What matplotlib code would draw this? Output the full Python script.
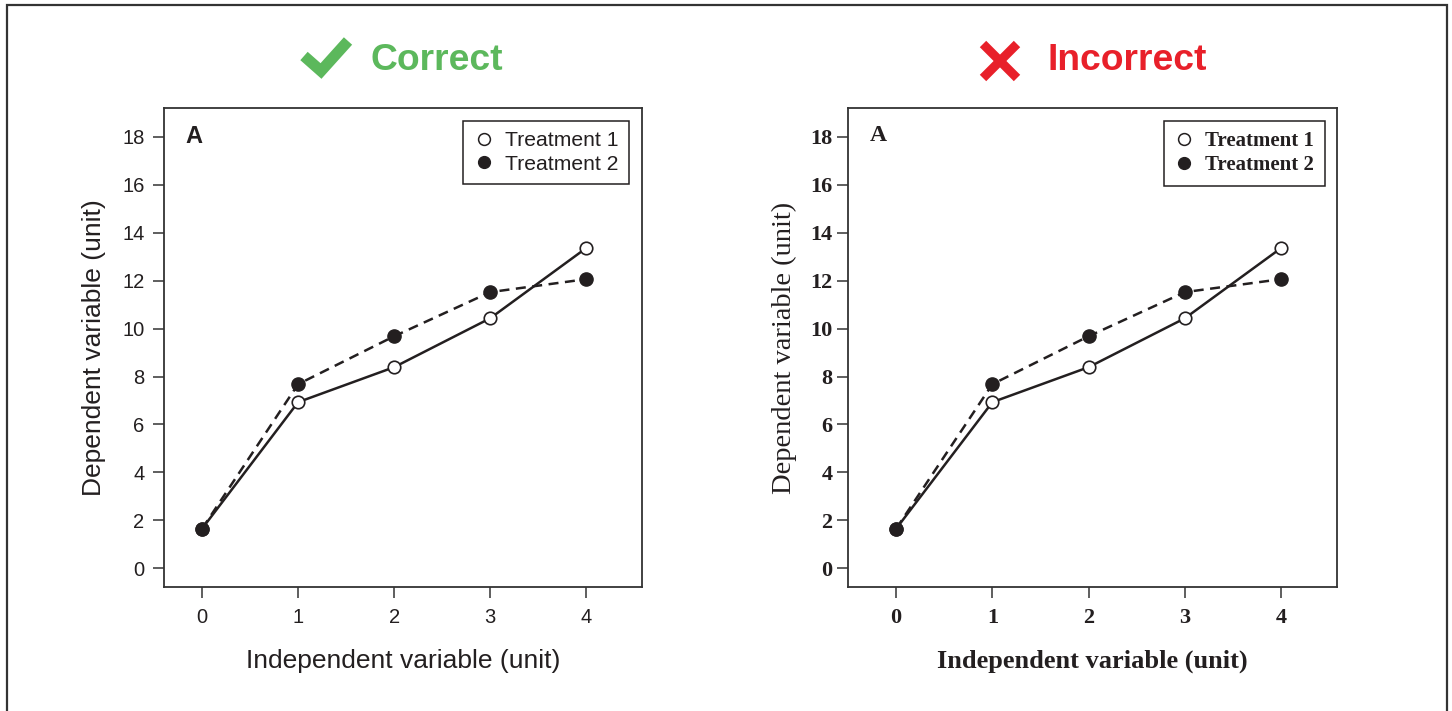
import matplotlib
matplotlib.use("Agg")
import matplotlib.pyplot as plt
from matplotlib.lines import Line2D
from matplotlib.patches import Rectangle

# ---- data ----
x_values = [0, 1, 2, 3, 4]
treatment1 = [1.65, 6.93, 8.39, 10.43, 13.36]
treatment2 = [1.65, 7.68, 9.68, 11.52, 12.06]
series_labels = ["Treatment 1", "Treatment 2"]
y_ticks = [0, 2, 4, 6, 8, 10, 12, 14, 16, 18]
x_label = "Independent variable (unit)"
y_label = "Dependent variable (unit)"
panel_tag = "A"
titles = ["Correct", "Incorrect"]

W, H = 1452, 711
DPI = 100
INK = "#231f20"
GREEN = "#5cb85c"
RED = "#e8202a"

fig = plt.figure(figsize=(W / DPI, H / DPI), dpi=DPI)


def fx(px):
    return px / W


def fy(py):
    return 1 - py / H


# outer frame
fig.patches.append(Rectangle((fx(6.5), fy(730)), fx(1446.5) - fx(6.5), fy(5.5) - fy(730),
                             transform=fig.transFigure, fill=False, edgecolor="#333333",
                             linewidth=1.6, clip_on=False))


def make_panel(rect, xlim, family, tick_weight, xlabel_weight, ylabel_weight,
               tick_size, label_size, ylabel_size, legend_size, tag_size, ypad, ylabel_pad):
    ax = fig.add_axes(rect)
    ax.plot(x_values, treatment1, color=INK, lw=1.8, ls="-", zorder=2)
    ax.plot(x_values, treatment2, color=INK, lw=1.8, ls=(0, (4, 2.6)), zorder=2)
    ax.plot(x_values, treatment1, ls="none", marker="o", ms=9, mfc="white", mec=INK,
            mew=1.2, zorder=3)
    ax.plot(x_values, treatment2, ls="none", marker="o", ms=9.5, mfc=INK, mec=INK,
            mew=1.0, zorder=4)
    ax.set_xlim(*xlim)
    ax.set_ylim(-0.78, 19.2)
    ax.set_xticks(x_values)
    ax.set_yticks(y_ticks)
    for s in ax.spines.values():
        s.set_color("#333333")
        s.set_linewidth(1.3)
    ax.tick_params(direction="out", length=8, width=1.1, color="#333333",
                   labelsize=tick_size, labelcolor=INK)
    ax.tick_params(axis="x", pad=7)
    ax.tick_params(axis="y", pad=ypad)
    for lab in ax.get_xticklabels() + ax.get_yticklabels():
        lab.set_family(family)
        lab.set_fontweight(tick_weight)
    ax.set_xlabel(x_label, family=family, fontsize=label_size, fontweight=xlabel_weight,
                  color=INK, labelpad=16)
    ax.set_ylabel(y_label, family=family, fontsize=ylabel_size, fontweight=ylabel_weight,
                  color=INK, labelpad=ylabel_pad)
    ax.text(0.045, 0.965, panel_tag, transform=ax.transAxes, ha="left", va="top",
            family=family, fontweight="bold", fontsize=tag_size, color=INK)
    handles = [
        Line2D([], [], ls="none", marker="o", ms=8.5, mfc="white", mec=INK, mew=1.1),
        Line2D([], [], ls="none", marker="o", ms=8.5, mfc=INK, mec=INK),
    ]
    leg = ax.legend(handles, series_labels, loc="upper right", fancybox=False,
                    framealpha=1, edgecolor=INK, borderaxespad=0.6, handlelength=1.0,
                    handletextpad=0.5, labelspacing=0.22, borderpad=0.5,
                    prop={"family": family, "size": legend_size, "weight": tick_weight})
    leg.get_frame().set_linewidth(1.1)
    for t in leg.get_texts():
        t.set_color(INK)
    return ax


make_panel([fx(164), fy(587), fx(642) - fx(164), fy(108) - fy(587)], (-0.396, 4.58),
           "Liberation Sans", "normal", "normal", "normal",
           14.5, 19, 19, 15.2, 17, 6, 12)
make_panel([fx(848), fy(587), fx(1337) - fx(848), fy(108) - fy(587)], (-0.5, 4.58),
           "Liberation Serif", "bold", "bold", "normal",
           16, 19, 20.5, 15, 17, 3, 10)

# titles with icons
fig.text(fx(371), fy(60), titles[0], ha="left", va="center", family="Liberation Sans",
         fontweight="bold", fontsize=26.8, color=GREEN)
fig.text(fx(1048), fy(60), titles[1], ha="left", va="center", family="Liberation Sans",
         fontweight="bold", fontsize=26.8, color=RED)

# check mark
fig.add_artist(Line2D([fx(304), fx(321), fx(348)], [fy(56), fy(71), fy(41)],
                      transform=fig.transFigure, color=GREEN, lw=8,
                      solid_capstyle="butt", solid_joinstyle="miter"))
# cross
fig.add_artist(Line2D([fx(983), fx(1017)], [fy(44), fy(78)], transform=fig.transFigure,
                      color=RED, lw=6.5, solid_capstyle="butt"))
fig.add_artist(Line2D([fx(1017), fx(983)], [fy(44), fy(78)], transform=fig.transFigure,
                      color=RED, lw=6.5, solid_capstyle="butt"))

fig.savefig("out.png", dpi=DPI)
